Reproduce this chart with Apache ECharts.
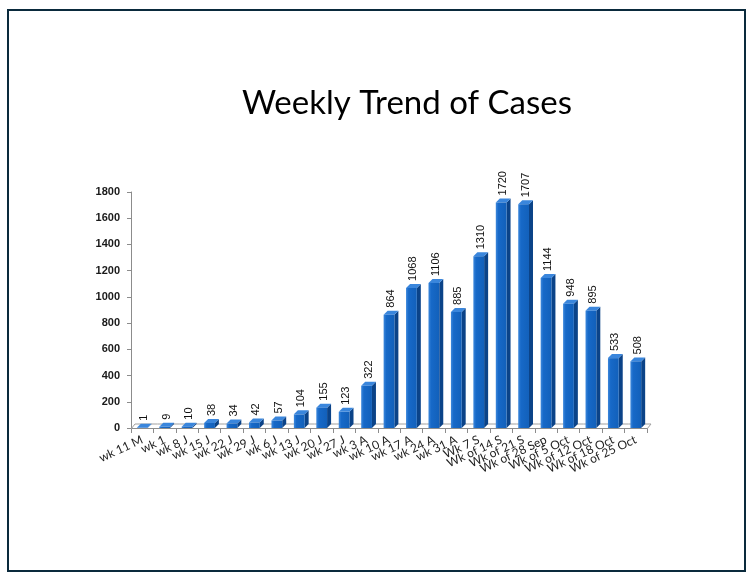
<!DOCTYPE html>
<html>
<head>
    <meta charset="UTF-8">
    <title>Weekly Trend of Cases</title>
    <script type="text/javascript" src="https://cdn.jsdelivr.net/npm/echarts@6/dist/echarts.min.js"></script>
    <style>
        html, body { margin: 0; padding: 0; background: #fff; }
        #frame { position: absolute; left: 7px; top: 9px; width: 735px; height: 559px; border: 2px solid #0a2a3c; }
    </style>
</head>
<body>
    <div id="frame"></div>
    <div id="main" style="position:absolute;left:0;top:0;width:751px;height:579px;"></div>
    <script type="text/javascript">
var weeks = ['wk 11 M', 'wk 1', 'wk 8 J', 'wk 15 J', 'wk 22 J', 'wk 29 J', 'wk 6 J', 'wk 13 J',
             'wk 20 J', 'wk 27 J', 'wk 3 A', 'wk 10 A', 'wk 17 A', 'wk 24 A', 'wk 31 A', 'Wk 7 S',
             'Wk of 14 S', 'Wk of 21 S', 'Wk of 28 Sep', 'Wk of 5 Oct', 'Wk of 12 Oct', 'Wk of 18 Oct', 'Wk of 25 Oct'];
var cases = [1, 9, 10, 38, 34, 42, 57, 104, 155, 123, 322, 864, 1068, 1106, 885, 1310, 1720, 1707, 1144, 948, 895, 533, 508];

var myChart = echarts.init(document.getElementById('main'));

// fake 3d column: front face, side face, top face, plus a floor strip
var depth = 4;
function renderBar(params, api) {
    var i = api.value(0);
    var v = api.value(1);
    var top = api.coord([i, v]);
    var base = api.coord([i, 0]);
    var band = api.size([1, 0])[0];
    var w = band * 0.48;
    var x0 = top[0] - w / 2, x1 = top[0] + w / 2;
    var y0 = base[1], y1 = top[1];
    var d = depth;
    var children = [];

    // floor back edge for this band
    var bl = base[0] - band / 2, br = base[0] + band / 2;
    children.push({ type: 'line', shape: { x1: bl + d, y1: y0 - d, x2: br + d, y2: y0 - d },
        style: { stroke: '#a0a0a0', lineWidth: 1 } });
    if (params.dataIndex === 0) {
        children.push({ type: 'line', shape: { x1: bl, y1: y0 + 1, x2: bl + d, y2: y0 - d },
            style: { stroke: '#a0a0a0', lineWidth: 1 } });
    }
    if (params.dataIndex === cases.length - 1) {
        children.push({ type: 'line', shape: { x1: br, y1: y0 + 1, x2: br + d, y2: y0 - d },
            style: { stroke: '#a0a0a0', lineWidth: 1 } });
    }

    children.push({ type: 'polygon', shape: { points: [[x1, y0], [x1 + d, y0 - d], [x1 + d, y1 - d], [x1, y1]] },
        style: { fill: '#0b4388' } });
    children.push({ type: 'polygon', shape: { points: [[x0, y1], [x1, y1], [x1 + d, y1 - d], [x0 + d, y1 - d]] },
        style: { fill: '#3a86dc' } });
    children.push({ type: 'rect', shape: { x: x0, y: y1, width: w, height: y0 - y1 },
        style: { fill: new echarts.graphic.LinearGradient(0, 0, 1, 0, [
            { offset: 0, color: '#3d88dc' }, { offset: 0.25, color: '#1769c8' }, { offset: 1, color: '#1260ba' }
        ]) } });
    children.push({ type: 'text', x: top[0] + d / 2, y: y1 - d - 3, rotation: Math.PI / 2,
        style: { text: String(v), fill: '#111', font: '11px "Liberation Sans", Arial, sans-serif',
                 align: 'left', verticalAlign: 'middle' } });
    return { type: 'group', children: children };
}

var option = {
    backgroundColor: 'transparent',
    animation: false,
    title: {
        text: 'Weekly Trend of Cases',
        left: 402,
        textAlign: 'center',
        top: 82,
        textStyle: { fontFamily: 'Lato', fontWeight: 'normal', fontSize: 33, color: '#000' }
    },
    grid: { left: 131, right: 104, top: 192, bottom: 151 },
    xAxis: {
        type: 'category',
        data: weeks,
        axisLine: { show: true, lineStyle: { color: '#8c8c8c' } },
        axisTick: { show: true, length: 5, lineStyle: { color: '#8c8c8c' } },
        axisLabel: { rotate: 25, interval: 0, fontSize: 12, color: '#222', fontFamily: 'Lato', margin: 11 }
    },
    yAxis: {
        type: 'value',
        min: 0,
        max: 1800,
        interval: 200,
        axisLine: { show: true, lineStyle: { color: '#8c8c8c' } },
        axisTick: { show: true, length: 4, lineStyle: { color: '#8c8c8c' } },
        splitLine: { show: false },
        axisLabel: { fontSize: 11, fontWeight: 'bold', color: '#1a1a1a', fontFamily: 'Liberation Sans', margin: 11,
                     formatter: function (val) { return String(val); } }
    },
    series: [{
        type: 'custom',
        renderItem: renderBar,
        encode: { x: 0, y: 1 },
        data: cases.map(function (c, i) { return [i, c]; })
    }]
};

myChart.setOption(option);
    </script>
</body>
</html>
